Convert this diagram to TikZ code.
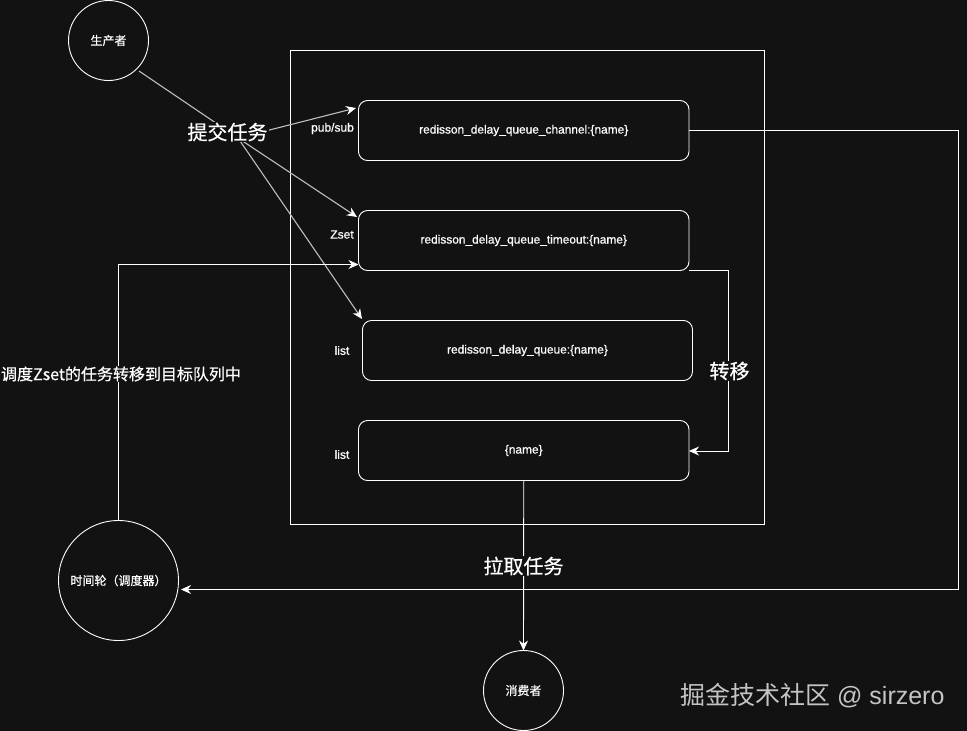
\documentclass[tikz,border=0pt]{standalone}
\usepackage{fontspec}
\setmainfont[FakeBold=0.7]{Liberation Sans}
\newfontfamily\cjk[FakeBold=0.6]{Noto Sans CJK SC}
\newfontfamily\plainfont{Liberation Sans}
\newfontfamily\plaincjk{Noto Sans CJK SC}
\usetikzlibrary{arrows.meta,calc}
\definecolor{bgc}{HTML}{121212}
\definecolor{wm}{HTML}{C4C4C4}
\definecolor{diag}{HTML}{BEBEBE}
\tikzset{
  x=1pt,y=-1pt,
  queuebox/.style={draw=white,line width=0.9pt,outer sep=0pt,rounded corners=9pt,minimum width=330.5pt,minimum height=60pt,inner sep=0pt,text=white,font=\fontsize{11.9}{14}\selectfont,anchor=north west},
  person/.style={draw=white,line width=0.9pt,outer sep=0pt,circle,inner sep=0pt,text=white,font=\fontsize{12}{14}\selectfont\cjk},
  smalllabel/.style={text=white,inner sep=0pt,font=\fontsize{12}{14}\selectfont},
  biglabel/.style={text=white,fill=bgc,inner sep=1pt,font=\fontsize{20}{24}\selectfont\cjk},
  midlabel/.style={text=white,fill=bgc,inner sep=1pt,font=\fontsize{16}{20}\selectfont\cjk},
  conn/.style={draw=white,line width=0.9pt,-{Stealth[length=10pt,width=9pt]}},
  diagline/.style={draw=diag,line width=1.1pt},
  diagarrow/.style={draw=diag,line width=1.1pt,-{Stealth[length=10pt,width=9pt,color=white]}},
}
\begin{document}
\begin{tikzpicture}
\useasboundingbox[fill=bgc] (0,0) rectangle (967,731);
\node[draw=white,line width=0.9pt,outer sep=0pt,inner sep=0pt,minimum width=474pt,minimum height=474pt,anchor=north west] (frame) at (290.5,50.5) {};
\node[queuebox] (channel) at (358.5,100.5) {redisson\_delay\_queue\_channel:\{name\}};
\node[queuebox] (timeout) at (358.5,210.5) {redisson\_delay\_queue\_timeout:\{name\}};
\node[queuebox,minimum width=330pt] (queue) at (362.5,320.5) {redisson\_delay\_queue:\{name\}};
\node[queuebox] (target) at (358.5,420.5) {\{name\}};
\node[person,minimum size=80pt] (producer) at (108.5,40.5) {生产者};
\node[person,minimum size=120pt] (wheel) at (118.5,580.5) {时间轮（调度器）};
\node[person,minimum size=80pt] (consumer) at (523.5,690.5) {消费者};
\node[smalllabel] (lpub) at (332.5,128.5) {pub/sub};
\node[smalllabel] (lzset) at (342,234.5) {Zset};
\node[smalllabel] (llist1) at (342,350.5) {list};
\node[smalllabel] (llist2) at (342,454.5) {list};
% hub of the three task arrows
\coordinate (hub) at (238,138);
\coordinate (tochannel) at (356,108);
\coordinate (totimeout) at (357,217);
\coordinate (toqueue) at (362,319);
\coordinate (p1) at (139,71);
\draw[diagline] (p1) -- (hub);
\draw[diagarrow] (hub) -- (tochannel);
\draw[diagarrow] (hub) -- (totimeout);
\draw[diagarrow] (hub) -- (toqueue);
\node[biglabel] (submit) at (227.5,132) {提交任务};
% scheduler to timeout
\coordinate (t1) at (118.5,264.5);
\draw[conn] (wheel.north) -- (t1) -- (timeout.west |- t1);
\node[midlabel] (schedule) at (121,374) {调度Zset的任务转移到目标队列中};
% channel to scheduler
\coordinate (c1) at (958.5,130.5);
\coordinate (c2) at (958.5,589.5);
\coordinate (c3) at (181,589.5);
\draw[conn] (channel.east) -- (c1) -- (c2) -- (c3);
% timeout to target
\coordinate (m1) at (728.5,270.5);
\coordinate (m2) at (728.5,451);
\draw[conn] (timeout.south east) -- (m1) -- (m2) -- (target.east |- m2);
\node[biglabel] (move) at (729.5,371) {转移};
% target to consumer
\draw[conn] (target.south) -- (consumer.north);
\node[biglabel] (pull) at (523.5,566) {拉取任务};
\node[text=wm,inner sep=0pt,anchor=west,font=\fontsize{25}{30}\selectfont\plainfont] (mark) at (680,695.5) {{\plaincjk 掘金技术社区} @ sirzero};
\end{tikzpicture}
\end{document}
